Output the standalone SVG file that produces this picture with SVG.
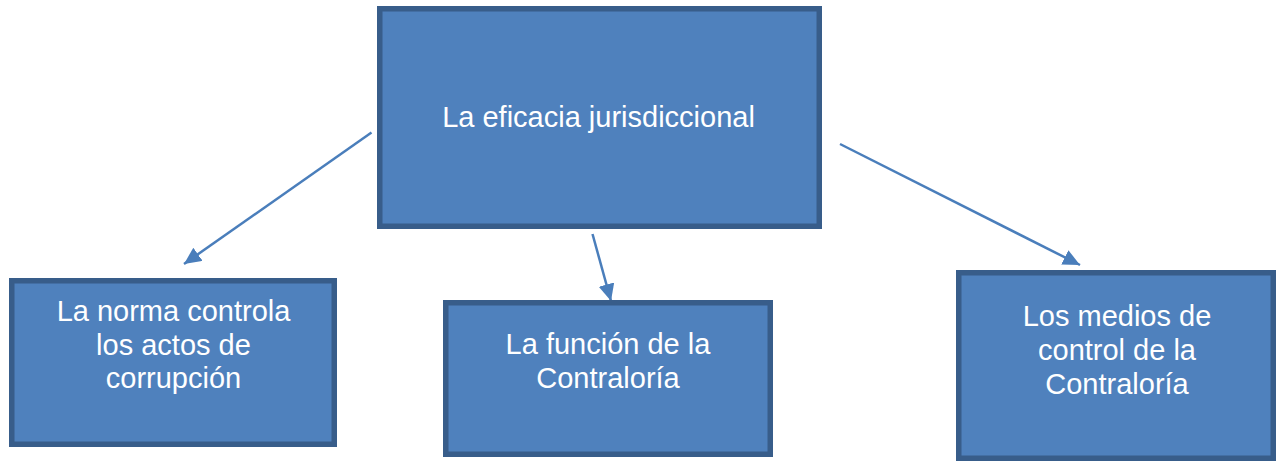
<svg xmlns="http://www.w3.org/2000/svg" width="1282" height="462" viewBox="0 0 1282 462">
<style>
.box{fill:#4f81bd;stroke:#385d8a;stroke-width:5.5}
.t{font-family:"Liberation Sans",Arial,sans-serif;font-size:29px;fill:#ffffff;text-anchor:middle}
.c{stroke:#4a7ebb;stroke-width:2.5;fill:none}
</style>
<defs>
<marker id="ah" markerUnits="userSpaceOnUse" markerWidth="19" markerHeight="17" refX="17" refY="8" orient="auto">
<path d="M0,0 L17,8 L0,16 z" fill="#4a7ebb"/>
</marker>
</defs>
<rect width="1282" height="462" fill="#ffffff"/>
<g id="connectors">
<line class="c" x1="371.5" y1="132.5" x2="184" y2="264" marker-end="url(#ah)"/>
<line class="c" x1="592.5" y1="234" x2="611" y2="301" marker-end="url(#ah)"/>
<line class="c" x1="840" y1="144" x2="1080" y2="265" marker-end="url(#ah)"/>
</g>
<g id="top">
<rect class="box" x="379.75" y="8.75" width="439.5" height="217.5"/>
<text class="t" x="598.5" y="127">La eficacia jurisdiccional</text>
</g>
<g id="left">
<rect class="box" x="11.75" y="280.75" width="322.5" height="163.5"/>
<text class="t" x="173.5" y="321">La norma controla</text>
<text class="t" x="173.5" y="354.5">los actos de</text>
<text class="t" x="173.5" y="388">corrupción</text>
</g>
<g id="middle">
<rect class="box" x="445.75" y="302.75" width="324.5" height="151.5"/>
<text class="t" x="608" y="354">La función de la</text>
<text class="t" x="608" y="388">Contraloría</text>
</g>
<g id="right">
<rect class="box" x="958.75" y="272.75" width="314.5" height="185.5"/>
<text class="t" x="1117" y="326">Los medios de</text>
<text class="t" x="1117" y="360">control de la</text>
<text class="t" x="1117" y="393.5">Contraloría</text>
</g>
</svg>
